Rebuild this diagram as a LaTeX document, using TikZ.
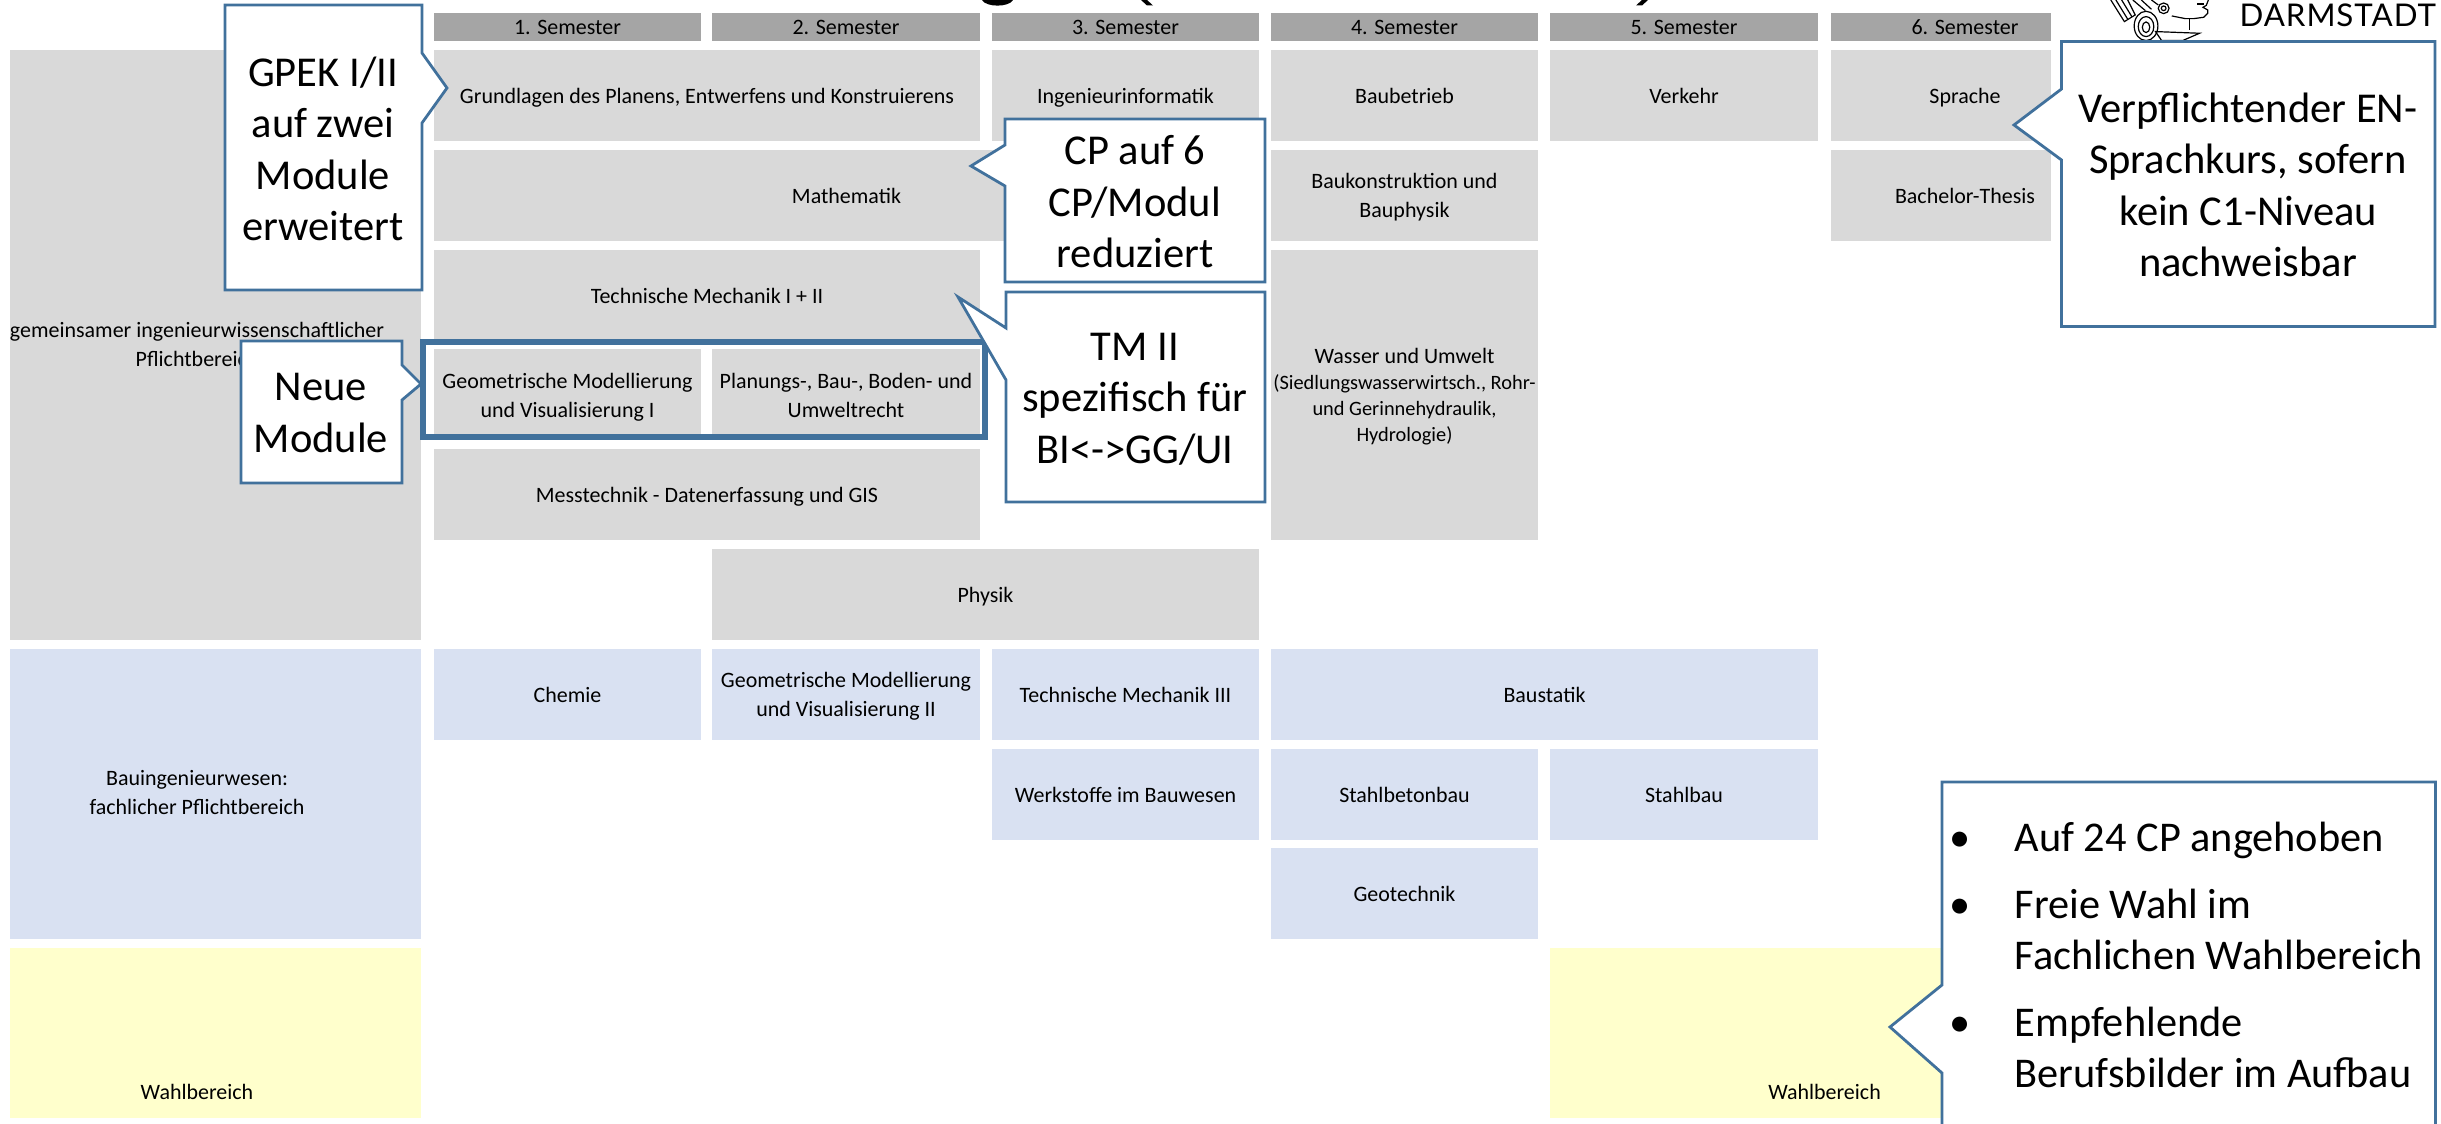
\documentclass[tikz,border=0pt]{standalone}
\usepackage{fontspec}
\setmainfont{Carlito}
\newfontfamily\logofont[LetterSpace=3]{Lato}
\usepackage{xcolor}
\definecolor{kopf_grey}{HTML}{a5a5a5}
\definecolor{modul_grey}{HTML}{d9d9d9}
\definecolor{modul_blue}{HTML}{d9e1f2}
\definecolor{modul_yellow}{HTML}{ffffcc}
\definecolor{rand_blue}{HTML}{41719c}

\begin{document}
\begin{tikzpicture}[
                kopf/.style={rectangle, fill=kopf_grey, inner sep=0pt, minimum height=0.28cm, text depth=0pt, font=\fontsize{6.25}{8.3}\selectfont},
                modul/.style={rectangle, fill=modul_grey, inner sep=0pt, minimum height=0.91cm, align=center, text depth=0pt, font=\fontsize{6.25}{8.3}\selectfont},
                fachmodul/.style={modul, fill=modul_blue},
                wahlmodul/.style={modul, fill=modul_yellow},
                blocktext/.style={inner sep=0pt, align=center, text depth=0pt, font=\fontsize{6.25}{8.3}\selectfont},
                callout/.style={draw=rand_blue, line width=0.028cm, fill=white},
                callouttext/.style={inner sep=0pt, align=center, font=\fontsize{12.1}{14.65}\selectfont},
                listtext/.style={inner sep=0pt, anchor=base west, align=left, font=\fontsize{12.05}{14.65}\selectfont},
            ]
            % Fix the page and cut everything that runs off it
            \clip (0,0) rectangle (24.41,-11.24);

            % Cut off lower ends of the title
            \fill (9.82,0) .. controls (9.86,-0.075) and (10.09,-0.075) .. (10.13,0) -- cycle;
            \fill (11.41,0) -- (11.47,0) -- (11.53,-0.055) -- (11.47,-0.055) -- cycle;
            \fill (16.42,0) -- (16.48,0) -- (16.42,-0.055) -- (16.36,-0.055) -- cycle;

            % Logo: head, drawn in zoomed pixel units
            \begin{scope}[shift={(20.60,0)}, x=0.00338cm, y=-0.00333cm, line width=0.012cm]
                \draw (438,0) -- (432,16) -- (422,22) -- (436,30) -- (436,40) -- (424,52) -- (395,56) -- (370,56) -- (330,48);
                \draw (405,12) -- (425,12);
                \draw (382,58) -- (382,90);
                \draw (282,95) -- (412,100) -- (362,122) -- (300,122) -- cycle;
                \draw (306,25) circle (16);
                \draw (306,25) circle (7);
                \draw (254,78) ellipse (35 and 44);
                \draw (254,80) ellipse (23 and 30);
                \draw (254,82) ellipse (11 and 16);
                \draw (150,0) -- (190,65) -- (222,45) -- (200,0);
                \draw (165,0) -- (200,58);
                \draw (182,0) -- (212,50);
                \draw (215,0) -- (252,32);
                \draw (240,0) -- (270,28);
                \draw (270,0) -- (290,15);
            \end{scope}
            \node[inner sep=0pt, anchor=base west, font=\logofont\fontsize{8.9}{10}\selectfont] (logo) at (22.39,-0.267) {DARMSTADT};

            % Semester headers
            \node[kopf, minimum width=2.67cm] (sem1) at (5.675,-0.27) {1. Semester};
            \node[kopf, minimum width=2.68cm] (sem2) at (8.46,-0.27) {2. Semester};
            \node[kopf, minimum width=2.67cm] (sem3) at (11.255,-0.27) {3. Semester};
            \node[kopf, minimum width=2.67cm] (sem4) at (14.045,-0.27) {4. Semester};
            \node[kopf, minimum width=2.68cm] (sem5) at (16.84,-0.27) {5. Semester};
            \node[kopf, minimum width=2.20cm] (sem6) at (19.41,-0.27) {\hspace*{0.48cm}6. Semester};

            % Left column
            \node[modul, minimum width=4.11cm, minimum height=5.90cm] (pflicht) at (2.155,-3.45) {};
            \node[blocktext] (pflichttext) at (1.97,-3.44) {gemeinsamer ingenieurwissenschaftlicher\\Pflichtbereich};
            \node[fachmodul, minimum width=4.11cm, minimum height=2.90cm] (fach) at (2.155,-7.94) {};
            \node[blocktext] (fachtext) at (1.97,-7.925) {Bauingenieurwesen:\\fachlicher Pflichtbereich};
            \node[wahlmodul, minimum width=4.11cm, minimum height=1.70cm] (wahl) at (2.155,-10.33) {};
            \node[blocktext] (wahltext) at (1.97,-10.92) {Wahlbereich};

            % Common modules
            \node[modul, minimum width=5.46cm] (gpek) at (7.07,-0.955) {Grundlagen des Planens, Entwerfens und Konstruierens};
            \node[modul, minimum width=8.25cm] (mathe) at (8.465,-1.955) {Mathematik};
            \node[modul, minimum width=5.46cm] (tm) at (7.07,-2.955) {Technische Mechanik I + II};
            \node[modul, minimum width=2.67cm] (geo) at (5.675,-3.95) {Geometrische Modellierung\\und Visualisierung I};
            \node[modul, minimum width=2.68cm] (recht) at (8.46,-3.95) {Planungs-, Bau-, Boden- und\\Umweltrecht};
            \node[modul, minimum width=5.46cm] (mess) at (7.07,-4.95) {Messtechnik - Datenerfassung und GIS};
            \node[modul, minimum width=5.47cm] (physik) at (9.855,-5.945) {Physik};
            \node[modul, minimum width=2.67cm] (info) at (11.255,-0.955) {Ingenieurinformatik};
            \node[modul, minimum width=2.67cm] (betrieb) at (14.045,-0.955) {Baubetrieb};
            \node[modul, minimum width=2.67cm] (konstr) at (14.045,-1.955) {Baukonstruktion und\\Bauphysik};
            \node[modul, minimum width=2.67cm, minimum height=2.90cm, font=\fontsize{5.8}{7.4}\selectfont] (wasser) at (14.045,-3.95) {{\fontsize{6.25}{7.4}\selectfont Wasser und Umwelt}\\(Siedlungswasserwirtsch., Rohr-\\und Gerinnehydraulik,\\Hydrologie)};
            \node[modul, minimum width=2.68cm] (verkehr) at (16.84,-0.955) {Verkehr};
            \node[modul, minimum width=2.20cm] (sprache) at (19.41,-0.955) {\hspace*{0.48cm}Sprache};
            \node[modul, minimum width=2.20cm] (thesis) at (19.41,-1.955) {\hspace*{0.48cm}Bachelor-Thesis};

            % Subject modules
            \node[fachmodul, minimum width=2.67cm] (chemie) at (5.675,-6.945) {Chemie};
            \node[fachmodul, minimum width=2.68cm] (geozwei) at (8.46,-6.945) {Geometrische Modellierung\\und Visualisierung II};
            \node[fachmodul, minimum width=2.67cm] (tmdrei) at (11.255,-6.945) {Technische Mechanik III};
            \node[fachmodul, minimum width=5.47cm] (statik) at (15.445,-6.945) {Baustatik};
            \node[fachmodul, minimum width=2.67cm] (werk) at (11.255,-7.945) {Werkstoffe im Bauwesen};
            \node[fachmodul, minimum width=2.67cm] (beton) at (14.045,-7.945) {Stahlbetonbau};
            \node[fachmodul, minimum width=2.68cm] (stahl) at (16.84,-7.945) {Stahlbau};
            \node[fachmodul, minimum width=2.67cm] (geotech) at (14.045,-8.935) {Geotechnik};

            % Elective block
            \node[wahlmodul, minimum width=5.49cm, minimum height=1.70cm] (wahlrechts) at (18.245,-10.33) {};
            \node[blocktext] (wahlrechtstext) at (18.245,-10.92) {Wahlbereich};

            % Frame around the new modules
            \draw[draw=rand_blue, line width=0.06cm] (4.23,-3.42) rectangle (9.845,-4.37);

            % Callouts
            \draw[callout] (2.25,-0.05) -- (4.22,-0.05) -- (4.22,-0.53) -- (4.47,-0.88) -- (4.22,-1.23) -- (4.22,-2.90) -- (2.25,-2.90) -- cycle;
            \node[callouttext] (gpekcall) at (3.23,-1.49) {GPEK I/II\\auf zwei\\Module\\erweitert};

            \draw[callout] (2.41,-3.41) -- (4.02,-3.41) -- (4.02,-3.65) -- (4.21,-3.84) -- (4.02,-4.00) -- (4.02,-4.83) -- (2.41,-4.83) -- cycle;
            \node[callouttext] (neucall) at (3.21,-4.13) {Neue\\Module};

            \draw[callout] (10.05,-1.19) -- (12.65,-1.19) -- (12.65,-2.82) -- (10.05,-2.82) -- (10.05,-1.86) -- (9.71,-1.66) -- (10.05,-1.45) -- cycle;
            \node[callouttext] (cpcall) at (11.35,-2.02) {CP auf 6\\CP/Modul\\reduziert};

            \draw[callout] (10.06,-2.92) -- (12.65,-2.92) -- (12.65,-5.02) -- (10.06,-5.02) -- (10.06,-3.80) -- (9.58,-2.97) -- (10.06,-3.28) -- cycle;
            \node[callouttext] (tmcall) at (11.35,-3.99) {TM II\\spezifisch für\\BI<->GG/UI};

            \draw[callout] (20.615,-0.415) -- (24.35,-0.415) -- (24.35,-3.265) -- (20.615,-3.265) -- (20.615,-1.60) -- (20.14,-1.25) -- (20.615,-0.89) -- cycle;
            \node[callouttext] (encall) at (22.48,-1.85) {Verpflichtender EN-\\Sprachkurs, sofern\\kein C1-Niveau\\nachweisbar};

            \draw[callout] (19.42,-7.82) -- (24.355,-7.82) -- (24.355,-11.5) -- (19.42,-11.5) -- (19.42,-10.73) -- (18.90,-10.27) -- (19.42,-9.85) -- cycle;
            \node[listtext] (item1) at (20.14,-8.52) {Auf 24 CP angehoben};
            \node[listtext] (item2) at (20.14,-9.70) {Freie Wahl im\\Fachlichen Wahlbereich};
            \node[listtext] (item3) at (20.14,-10.88) {Empfehlende\\Berufsbilder im Aufbau};
            \node[listtext, anchor=base] (bullet1) at (19.60,-8.52) {•};
            \node[listtext, anchor=base] (bullet2) at (19.60,-9.19) {•};
            \node[listtext, anchor=base] (bullet3) at (19.60,-10.37) {•};
        \end{tikzpicture}
\end{document}
